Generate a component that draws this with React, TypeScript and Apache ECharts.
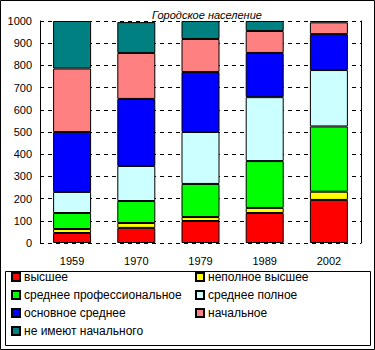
import React, { useEffect, useRef } from "react";
import * as echarts from "echarts";

const years = ["1959", "1970", "1979", "1989", "2002"];
const seriesNames = [
  "высшее",
  "неполное высшее",
  "среднее профессиональное",
  "среднее полное",
  "основное среднее",
  "начальное",
  "не имеют начального",
];
const higher = [45, 68, 99, 135, 194];
const incompleteHigher = [18, 22, 18, 23, 37];
const secondaryProf = [72, 99, 149, 211, 294];
const secondaryFull = [95, 158, 234, 288, 254];
const basicSecondary = [270, 302, 270, 199, 162];
const primary = [286, 207, 149, 99, 53];
const noPrimary = [214, 139, 81, 45, 6];
const colors = ["#FF0000", "#FFFF00", "#00FF00", "#CCFFFF", "#0000FF", "#FF8080", "#008080"];
const yTicks = [0, 100, 200, 300, 400, 500, 600, 700, 800, 900, 1000];

export default function App() {
  const ref = useRef<HTMLDivElement>(null);
  useEffect(() => {
    if (!ref.current) return;
    const chart = echarts.init(ref.current, null, { renderer: "svg" });
    const values = [higher, incompleteHigher, secondaryProf, secondaryFull, basicSecondary, primary, noPrimary];
    const font = "Arial, 'Liberation Sans', sans-serif";
    const series = seriesNames.map((name, i) => ({
      name,
      type: "bar",
      stack: "total",
      barWidth: 38,
      data: values[i],
      itemStyle: { color: colors[i], borderColor: "#000", borderWidth: 1 },
    }));
    chart.setOption({
      animation: false,
      backgroundColor: "#fff",
      title: {
        text: "Городское население",
        left: 202,
        textAlign: "center",
        top: 4,
        textStyle: { fontSize: 11, fontStyle: "italic", fontWeight: "normal", color: "#000", fontFamily: font },
      },
      grid: { left: 40, right: 14, top: 21, bottom: 107 },
      xAxis: {
        type: "category",
        data: years,
        axisLine: { show: false },
        axisTick: { show: false },
        axisLabel: { color: "#000", fontSize: 11, fontFamily: font, margin: 12 },
      },
      yAxis: [
        {
          type: "value",
          min: yTicks[0],
          max: yTicks[yTicks.length - 1],
          interval: 100,
          axisLine: { show: true, lineStyle: { color: "#000", width: 1 } },
          axisTick: { show: false },
          axisLabel: { color: "#000", fontSize: 11, fontFamily: font, margin: 8, formatter: (v: number) => String(v) },
          splitLine: { show: true, lineStyle: { color: "#000", type: [4, 4], width: 1 } },
        },
        {
          type: "value",
          position: "right",
          min: yTicks[0],
          max: yTicks[yTicks.length - 1],
          interval: 100,
          axisLine: { show: true, lineStyle: { color: "#000", width: 1 } },
          axisTick: { show: false },
          axisLabel: { show: false },
          splitLine: { show: false },
        },
      ],
      legend: [
        {
          orient: "vertical",
          left: 11,
          top: 270,
          padding: 0,
          itemWidth: 8,
          itemHeight: 8,
          itemGap: 4,
          icon: "rect",
          data: [seriesNames[0], seriesNames[2], seriesNames[4], seriesNames[6]],
          textStyle: { fontSize: 12, color: "#000", fontFamily: font, lineHeight: 14, padding: [0, 0, 0, -1] },
        },
        {
          orient: "vertical",
          left: 195,
          top: 270,
          padding: 0,
          itemWidth: 8,
          itemHeight: 8,
          itemGap: 4,
          icon: "rect",
          data: [seriesNames[1], seriesNames[3], seriesNames[5]],
          textStyle: { fontSize: 12, color: "#000", fontFamily: font, lineHeight: 14, padding: [0, 0, 0, -1] },
        },
      ],
      graphic: [
        {
          type: "rect",
          shape: { x: 0.5, y: 0.5, width: 374, height: 349 },
          style: { fill: "none", stroke: "#000", lineWidth: 1 },
          silent: true,
        },
        {
          type: "rect",
          shape: { x: 5.5, y: 271.5, width: 365, height: 74 },
          style: { fill: "none", stroke: "#000", lineWidth: 1 },
          silent: true,
        },
      ],
      series,
    });
    return () => chart.dispose();
  }, []);
  return <div ref={ref} style={{ position: "absolute", left: 0, top: 0, width: 375, height: 350 }} />;
}
